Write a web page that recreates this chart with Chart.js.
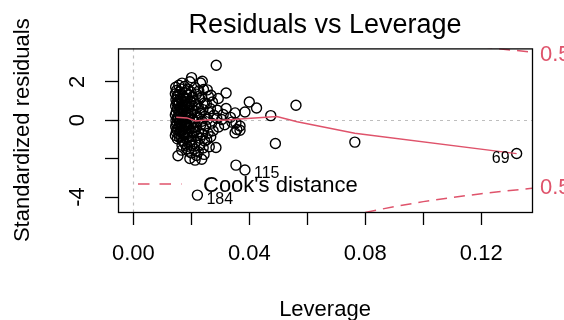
<!DOCTYPE html>
<html>
<head>
<meta charset="utf-8">
<title>Residuals vs Leverage</title>
<script src="https://cdn.jsdelivr.net/npm/chart.js@4.4.1/dist/chart.umd.min.js"></script>
<style>
  body { margin: 0; background: #fff; }
  #chartContainer { display: block; }
</style>
</head>
<body>
<canvas id="chartContainer" width="564" height="320"></canvas>
<script>
const leverage = [
  0.0146, 0.0149, 0.0145, 0.0151, 0.0147, 0.0150, 0.0146, 0.0152, 0.0148, 0.0145, 0.0151, 0.0147, 0.0149, 0.0146, 0.0150, 0.0148, 0.0145, 0.0152,
  0.0157, 0.0160, 0.0155, 0.0162, 0.0158, 0.0156, 0.0161, 0.0157, 0.0159, 0.0155, 0.0162, 0.0158, 0.0160, 0.0156, 0.0161, 0.0157, 0.0159, 0.0154,
  0.0168, 0.0166, 0.0171, 0.0165, 0.0169, 0.0172, 0.0167, 0.0170, 0.0165, 0.0168, 0.0171, 0.0166, 0.0169, 0.0167, 0.0172, 0.0165, 0.0170, 0.0168, 0.0167,
  0.0177, 0.0180, 0.0175, 0.0182, 0.0178, 0.0176, 0.0181, 0.0179, 0.0175, 0.0183, 0.0177, 0.0180, 0.0176, 0.0182, 0.0178, 0.0184,
  0.0195, 0.0188, 0.0192, 0.0186, 0.0190, 0.0193, 0.0187, 0.0191, 0.0189, 0.0194, 0.0186, 0.0192, 0.0188, 0.0190, 0.0193, 0.0187, 0.0191, 0.0195,
  0.0201, 0.0199, 0.0204, 0.0198, 0.0202, 0.0205, 0.0200, 0.0203, 0.0199, 0.0206, 0.0201, 0.0204, 0.0198, 0.0202, 0.0200, 0.0213,
  0.0212, 0.0218, 0.0210, 0.0216, 0.0214, 0.0220, 0.0211, 0.0217, 0.0213, 0.0219, 0.0215, 0.0211, 0.0218,
  0.0232, 0.0226, 0.0229, 0.0224, 0.0231, 0.0227, 0.0233, 0.0225, 0.0230, 0.0228, 0.0224, 0.0236,
  0.0238, 0.0242, 0.0236, 0.0245, 0.0240, 0.0247, 0.0237, 0.0243, 0.0239, 0.0246, 0.0241, 0.0244,
  0.0255, 0.0259, 0.0252, 0.0261, 0.0256, 0.0250, 0.0258, 0.0253, 0.0262,
  0.0268, 0.0273, 0.0266, 0.0278, 0.0270, 0.0275, 0.0267,
  0.0286, 0.0293, 0.0290, 0.0288, 0.0294, 0.0285,
  0.0320, 0.0320, 0.0310, 0.0305, 0.0315, 0.0335, 0.0340,
  0.0351, 0.0354, 0.0357, 0.0351, 0.0354, 0.0385, 0.0400, 0.0425, 0.0474, 0.0490, 0.0561, 0.0764, 0.0368, 0.0368
];
const stdResid = [
  1.72, 1.55, 1.38, 1.22, 1.06, 0.90, 0.74, 0.58, 0.42, 0.27, 0.12, -0.03, -0.18, -0.33, -0.48, -0.63, -0.80, -0.97,
  1.82, 1.48, 1.31, 1.15, 0.98, 0.83, 0.66, 0.51, 0.35, 0.19, 0.05, -0.10, -0.26, -0.41, -0.57, -0.73, -0.90, -1.85,
  1.93, 1.62, 1.27, 1.08, 0.93, 0.77, 0.62, 0.46, 0.30, 0.14, -0.02, -0.19, -0.36, -0.52, -0.68, -0.85, -1.08, -1.30, -1.56,
  1.76, 1.42, 1.17, 0.97, 0.79, 0.52, 0.36, 0.21, 0.03, -0.14, -0.31, -0.60, -0.78, -0.96, -1.22, -1.48,
  2.00, 1.62, 1.33, 1.10, 0.86, 0.66, 0.42, 0.26, 0.10, -0.09, -0.27, -0.45, -0.69, -0.90, -1.12, -1.36, -1.62, -1.99,
  2.22, 1.47, 1.22, 0.99, 0.73, 0.51, 0.31, 0.06, -0.20, -0.40, -0.62, -0.84, -1.05, -1.31, -1.70, -2.08,
  1.70, 1.36, 1.01, 0.80, 0.46, 0.16, -0.10, -0.34, -0.56, -0.81, -1.15, -1.50, -1.84,
  1.94, 1.52, 1.11, 0.71, 0.36, 0.11, -0.24, -0.60, -0.94, -1.28, -1.64, -2.03,
  2.03, 1.60, 1.21, 0.90, 0.55, 0.21, -0.05, -0.44, -0.74, -1.08, -1.44, -1.78,
  1.58, 1.24, 0.85, 0.41, 0.05, -0.30, -0.68, -1.01, -1.38,
  1.30, 0.95, 0.60, 0.26, -0.15, -0.55, -0.86,
  2.86, 1.13, 0.52, 0.10, -0.35, -1.42,
  1.42, 0.61, 0.30, 0.04, -0.24, 0.15, -0.10,
  0.38, -0.14, -0.48, -0.66, -2.34, 0.43, 0.95, 0.64, 0.24, -1.21, 0.78, -1.14, -0.30, -0.52
];

// the three labelled observations
const flagIds = ['184', '115', '69'];
const flagLeverage = [0.0221, 0.0385, 0.1322];
const flagResid = [-3.90, -2.59, -1.73];

// red smoother
const smoothLeverage = [0.0148, 0.0185, 0.0215, 0.026, 0.031, 0.038, 0.047, 0.0495, 0.0565, 0.0764, 0.1322];
const smoothResid = [0.15, 0.12, -0.04, 0.02, 0.0, 0.08, 0.17, 0.19, -0.08, -0.68, -1.74];

// Cook's distance 0.5 contours
const cookLevel = '0.5';
const cookLowLeverage = [0.08, 0.09, 0.10, 0.11, 0.12, 0.13, 0.14];
const cookLowResid = [-4.80, -4.50, -4.24, -4.02, -3.83, -3.66, -3.51];
const cookHighLeverage = [0.12, 0.13, 0.14];
const cookHighResid = [3.83, 3.66, 3.51];
const cookLabelResid = [3.40, -3.55];

// axes
const levTicks = [0, 0.02, 0.04, 0.06, 0.08, 0.10, 0.12];
const levTickLabels = ['0.00', '', '0.04', '', '0.08', '', '0.12'];
const residTicks = [-4, -2, 0, 2];
const residTickLabels = ['-4', '', '0', '2'];

const R_RED = '#DF536B';
const FONT = "'Liberation Sans', Arial, Helvetica, sans-serif";

Chart.defaults.font.family = FONT;
Chart.defaults.color = '#000';

const toPoints = (xs, ys) => xs.map((v, i) => ({x: v, y: ys[i]}));

// zero lines, plot box, id labels, legend and the contour labels
const rPlotExtras = {
    id: 'rPlotExtras',
    beforeDatasetsDraw(chart) {
        const {ctx, chartArea: a, scales: {x, y}} = chart;
        const x0 = Math.round(x.getPixelForValue(0)) + 0.5;
        const y0 = Math.round(y.getPixelForValue(0)) + 0.5;
        ctx.save();
        ctx.strokeStyle = '#BEBEBE';
        ctx.lineWidth = 1.2;
        ctx.setLineDash([3, 4]);
        ctx.beginPath();
        ctx.moveTo(x0, a.top);
        ctx.lineTo(x0, a.bottom);
        ctx.moveTo(a.left, y0);
        ctx.lineTo(a.right, y0);
        ctx.stroke();
        ctx.restore();
    },
    afterDatasetsDraw(chart) {
        const {ctx, chartArea: a, scales: {x, y}} = chart;
        ctx.save();

        ctx.strokeStyle = '#000';
        ctx.lineWidth = 1.3;
        ctx.setLineDash([]);
        ctx.strokeRect(a.left + 0.5, a.top + 0.5, a.right - a.left, a.bottom - a.top);

        // point ids (left of the point when it sits in the right half)
        const allLev = leverage.concat(flagLeverage);
        const midX = (x.getPixelForValue(Math.min(...allLev)) + x.getPixelForValue(Math.max(...allLev))) / 2;
        ctx.font = '16px ' + FONT;
        ctx.fillStyle = '#000';
        ctx.textBaseline = 'middle';
        flagIds.forEach((id, i) => {
            const px = x.getPixelForValue(flagLeverage[i]);
            const py = y.getPixelForValue(flagResid[i]);
            if (px > midX) {
                ctx.textAlign = 'right';
                ctx.fillText(id, px - 7, py + 5);
            } else {
                ctx.textAlign = 'left';
                ctx.fillText(id, px + 9, py + 4);
            }
        });

        // legend, bottom left
        const ly = a.bottom - 28;
        ctx.strokeStyle = R_RED;
        ctx.lineWidth = 1.4;
        ctx.setLineDash([11.5, 10]);
        ctx.beginPath();
        ctx.moveTo(a.left + 20, ly);
        ctx.lineTo(a.left + 63.5, ly);
        ctx.stroke();
        ctx.setLineDash([]);
        ctx.font = '22px ' + FONT;
        ctx.textAlign = 'left';
        ctx.fillText("Cook's distance", a.left + 85, ly + 1.5);

        // contour level on the right margin
        ctx.fillStyle = R_RED;
        cookLabelResid.forEach(v => {
            ctx.fillText(cookLevel, a.right + 8, y.getPixelForValue(v));
        });
        ctx.restore();
    }
};

const ctx = document.getElementById('chartContainer').getContext('2d');

new Chart(ctx, {
    type: 'scatter',
    data: {
        datasets: [
            {
                label: 'smooth',
                data: toPoints(smoothLeverage, smoothResid),
                showLine: true,
                borderColor: R_RED,
                borderWidth: 1.5,
                pointRadius: 0,
                order: 1
            },
            {
                label: 'cook low',
                data: toPoints(cookLowLeverage, cookLowResid),
                showLine: true,
                borderColor: R_RED,
                borderWidth: 1.5,
                borderDash: [11, 7],
                pointRadius: 0,
                order: 2
            },
            {
                label: 'cook high',
                data: toPoints(cookHighLeverage, cookHighResid),
                showLine: true,
                borderColor: R_RED,
                borderWidth: 1.5,
                borderDash: [11, 7],
                pointRadius: 0,
                order: 2
            },
            {
                label: 'residuals',
                data: toPoints(leverage.concat(flagLeverage), stdResid.concat(flagResid)),
                showLine: false,
                pointStyle: 'circle',
                pointRadius: 5,
                pointBorderWidth: 1.4,
                pointBorderColor: '#000',
                pointBackgroundColor: 'rgba(0,0,0,0)',
                order: 3
            }
        ]
    },
    options: {
        responsive: false,
        animation: false,
        events: [],
        layout: { padding: { left: 0, right: 32, top: 0, bottom: 0 } },
        plugins: {
            legend: { display: false },
            tooltip: { enabled: false },
            title: {
                display: true,
                text: 'Residuals vs Leverage',
                fullSize: false,
                color: '#000',
                font: { size: 27, weight: 'normal' },
                padding: { top: 9, bottom: 7 }
            }
        },
        scales: {
            x: {
                type: 'linear',
                min: -0.00528,
                max: 0.1375,
                afterBuildTicks: s => { s.ticks = levTicks.map(v => ({value: v})); },
                afterFit: s => { s.height = 108; },
                ticks: {
                    autoSkip: false,
                    minRotation: 0,
                    maxRotation: 0,
                    padding: 16,
                    font: { size: 22 },
                    callback: (v, i) => levTickLabels[i]
                },
                grid: { display: true, drawOnChartArea: false, drawTicks: true, tickLength: 13, tickColor: '#000', tickWidth: 1.3 },
                border: { display: false },
                title: { display: true, text: 'Leverage', font: { size: 22 }, padding: { top: 0, bottom: -3 } }
            },
            y: {
                type: 'linear',
                min: -4.78,
                max: 3.74,
                afterBuildTicks: s => { s.ticks = residTicks.map(v => ({value: v})); },
                afterFit: s => { s.width = 118; },
                ticks: {
                    autoSkip: false,
                    minRotation: 90,
                    maxRotation: 90,
                    crossAlign: 'center',
                    padding: 17,
                    font: { size: 22 },
                    callback: (v, i) => residTickLabels[i]
                },
                grid: { display: true, drawOnChartArea: false, drawTicks: true, tickLength: 13, tickColor: '#000', tickWidth: 1.3 },
                border: { display: false },
                title: { display: true, text: 'Standardized residuals', font: { size: 22 }, padding: { top: 10, bottom: 0 } }
            }
        }
    },
    plugins: [rPlotExtras]
});
</script>
</body>
</html>
